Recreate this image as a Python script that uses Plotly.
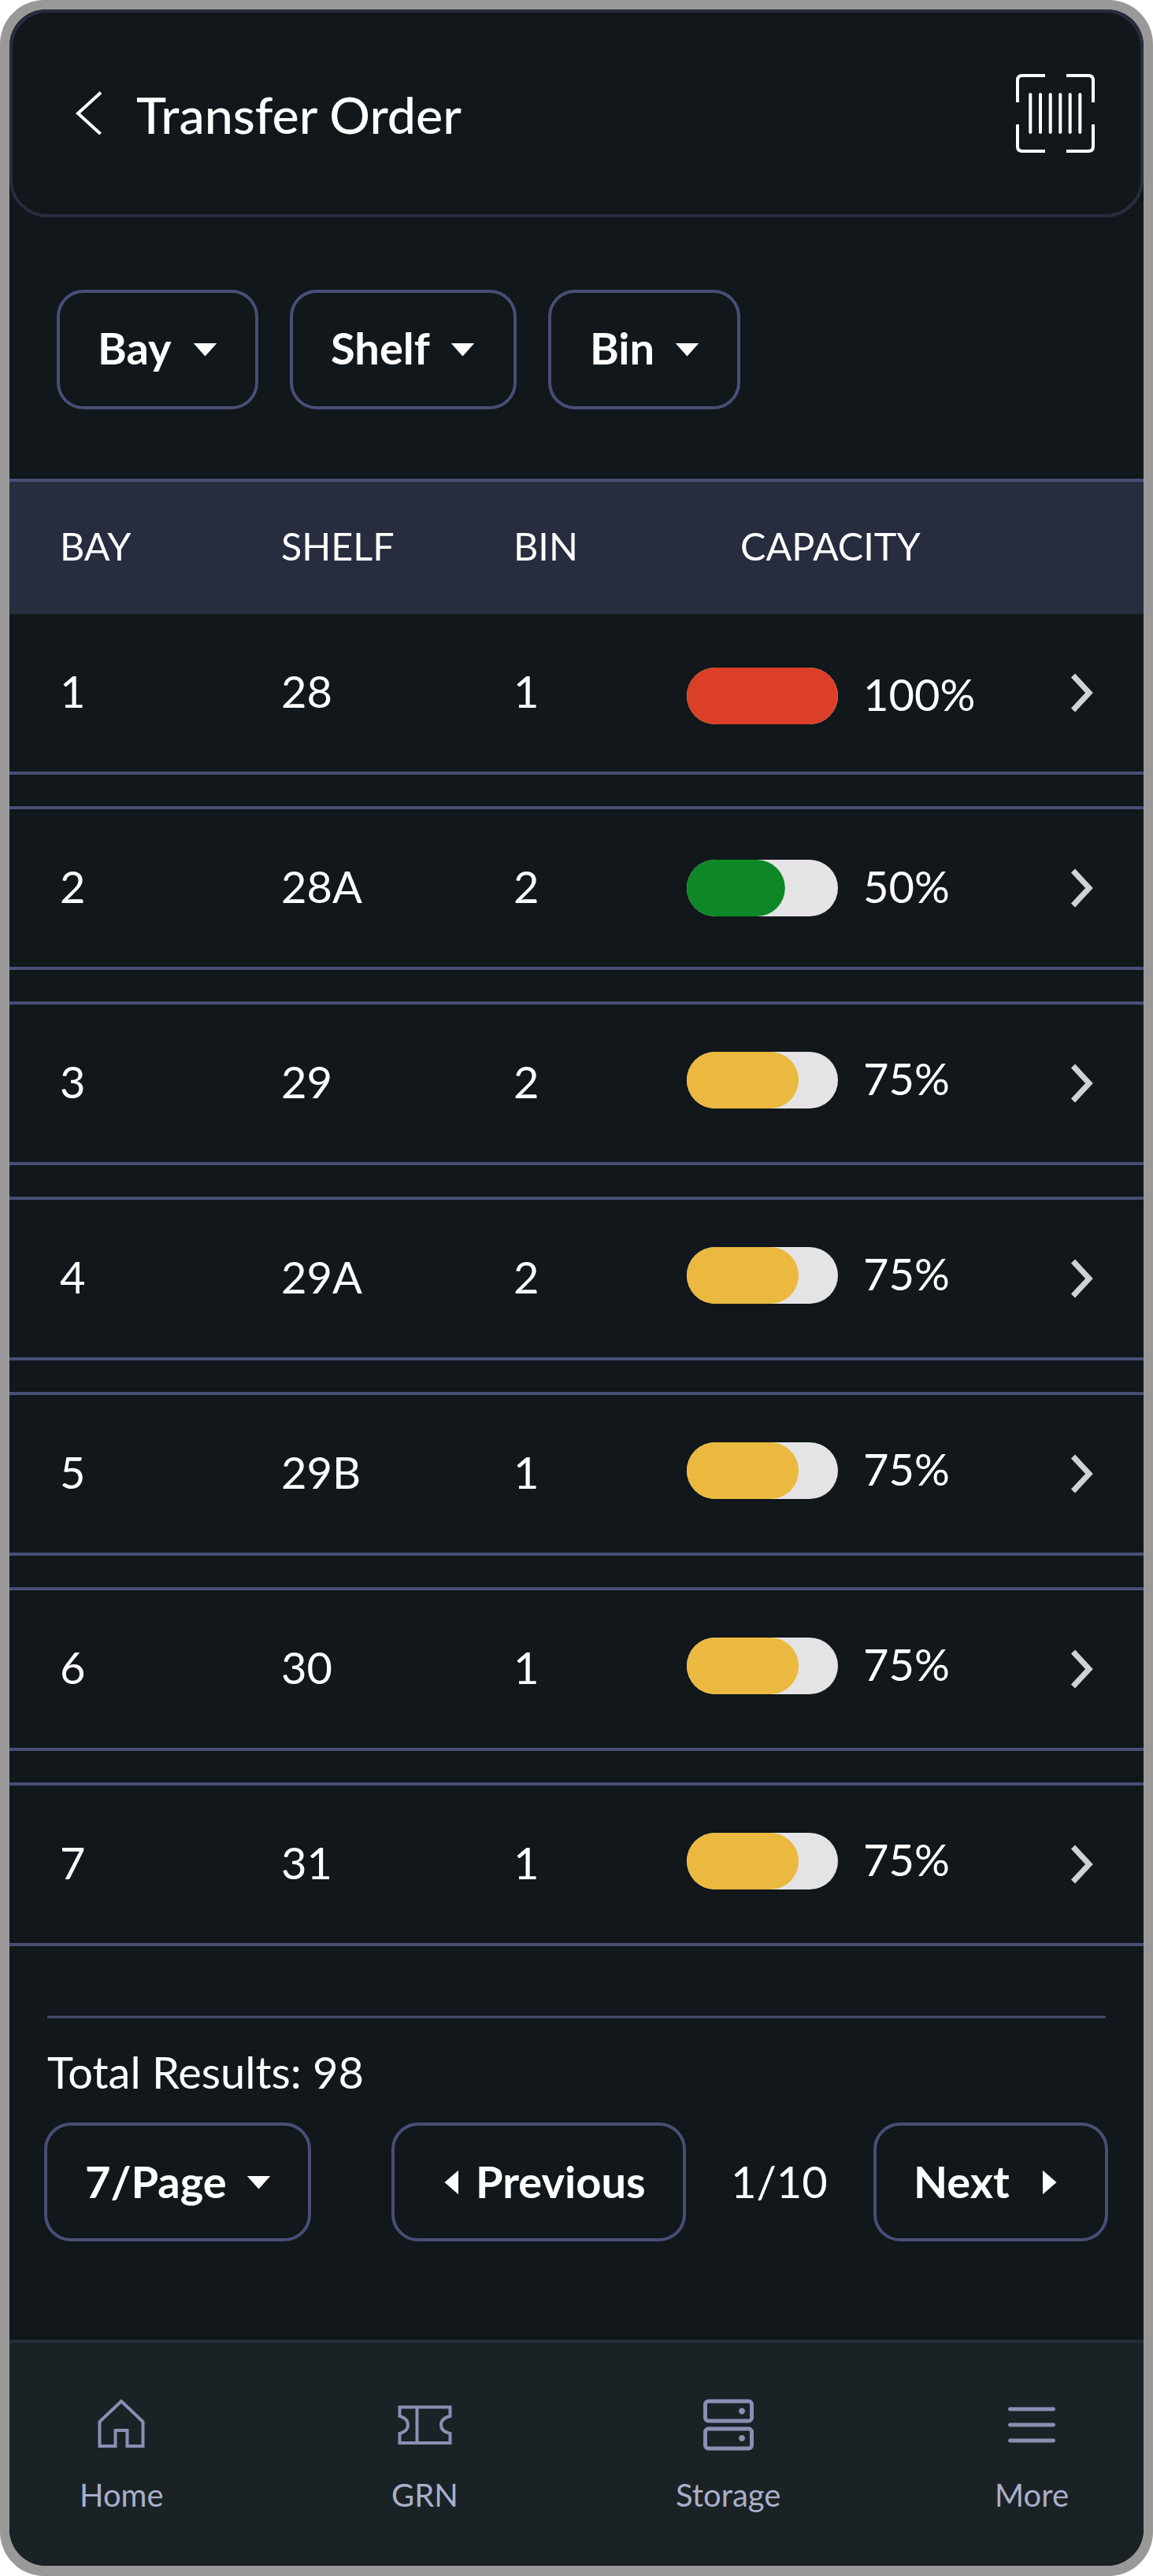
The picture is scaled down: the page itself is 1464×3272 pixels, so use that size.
import plotly.graph_objects as go

# table data
bays = ["1", "2", "3", "4", "5", "6", "7"]
shelves = ["28", "28A", "29", "29A", "29B", "30", "31"]
bins = ["1", "2", "2", "2", "1", "1", "1"]
capacity_labels = ["100%", "50%", "75%", "75%", "75%", "75%", "75%"]
# drawn fill of each pill, as share of the track
capacity_fill = [100, 65, 74, 74, 74, 74, 74]
capacity_colors = ["#db3f27", "#0e8726", "#ebb93f", "#ebb93f", "#ebb93f", "#ebb93f", "#ebb93f"]
track_full = [100, 100, 100, 100, 100, 100, 100]

headers = ["BAY", "SHELF", "BIN", "CAPACITY"]
filters = ["Bay", "Shelf", "Bin"]
nav_labels = ["Home", "GRN", "Storage", "More"]

# layout, in page pixels
W, H = 1464, 3272
text_rows = [880, 1128, 1376, 1624, 1872, 2120, 2368]
pill_rows = [884, 1128, 1372, 1620, 1868, 2116, 2364]
row_lines = [982, 1026, 1230, 1274, 1478, 1522, 1726, 1770, 1974, 2018, 2222, 2266, 2470]

BG = "#11171a"
NAV_BG = "#1a2226"
BORDER = "#484e76"
BAND = "#282c3f"
WHITE = "#ffffff"
NAV_ICON = "#8a8fb3"
NAV_TEXT = "#a9afc9"
FONT = "Lato"

shapes = []
annotations = []


def rrect_path(x0, y0, x1, y1, r):
    k = r * 0.45
    return (
        f"M{x0 + r},{y0} H{x1 - r} C{x1 - k},{y0} {x1},{y0 + k} {x1},{y0 + r} "
        f"V{y1 - r} C{x1},{y1 - k} {x1 - k},{y1} {x1 - r},{y1} "
        f"H{x0 + r} C{x0 + k},{y1} {x0},{y1 - k} {x0},{y1 - r} "
        f"V{y0 + r} C{x0},{y0 + k} {x0 + k},{y0} {x0 + r},{y0} Z"
    )


def add_rrect(x0, y0, x1, y1, r, fill=None, line=None, width=4):
    shapes.append(dict(
        type="path", path=rrect_path(x0, y0, x1, y1, r), layer="below",
        fillcolor=fill if fill else "rgba(0,0,0,0)",
        line=dict(color=line if line else "rgba(0,0,0,0)", width=width if line else 0),
    ))


def add_path(path, color, width=4, fill=None):
    shapes.append(dict(
        type="path", path=path, layer="below",
        fillcolor=fill if fill else "rgba(0,0,0,0)",
        line=dict(color=color, width=width),
    ))


def add_line(x0, x1, y, color, width=4):
    shapes.append(dict(type="line", x0=x0, x1=x1, y0=y, y1=y, layer="below",
                       line=dict(color=color, width=width)))


def add_text(x, y, text, size, color=WHITE, weight=400, anchor="left"):
    # small nudge: annotation boxes sit a little right and low of the glyphs
    if anchor == "left":
        x -= 3
    annotations.append(dict(
        x=x, y=y - size * 0.04, xref="x", yref="y", text=text, showarrow=False,
        xanchor=anchor, yanchor="middle", borderpad=0,
        font=dict(family=FONT, size=size, color=color, weight=weight),
    ))


def add_tri(points, color=WHITE):
    p = " L".join(f"{a},{b}" for a, b in points)
    add_path(f"M{p} Z", color, width=2, fill=color)


# frame and panels
add_rrect(0, 0, W, H, 56, fill="#999999")
add_rrect(12, 12, W - 12, H - 13, 46, fill=BG)
add_rrect(14, 14, W - 14, 274, 46, line=BAND, width=4)

# nav bar background, square on top and rounded below
shapes.append(dict(
    type="path", layer="below", fillcolor=NAV_BG, line=dict(width=0),
    path=f"M12,2974 H{W - 12} V{H - 59} C{W - 12},{H - 34} {W - 33},{H - 13} {W - 58},{H - 13} "
         f"H58 C33,{H - 13} 12,{H - 34} 12,{H - 59} Z",
))
add_line(12, W - 12, 2974, BAND, 4)

# top bar
add_path("M128,117.5 L99,144 L127.5,170", WHITE, 4)
add_text(175, 148, "Transfer Order", 64.5, weight=500)
add_path("M1292,130 V102 Q1292,96 1298,96 H1327", WHITE, 4)
add_path("M1354,96 H1382 Q1388,96 1388,102 V130", WHITE, 4)
add_path("M1292,158 V186 Q1292,192 1298,192 H1327", WHITE, 4)
add_path("M1354,192 H1382 Q1388,192 1388,186 V158", WHITE, 4)
for bx in [1308.3, 1321, 1333.7, 1346.3, 1358.7, 1371.3]:
    add_rrect(bx - 2, 118, bx + 2, 170, 2, fill=WHITE)

# filter buttons
filter_boxes = [(74, 326), (370, 654), (698, 938)]
filter_text_x = [126, 422, 750.5]
filter_tri_x = [247, 574, 859]
for name, box, tx, tri in zip(filters, filter_boxes, filter_text_x, filter_tri_x):
    add_rrect(box[0], 370, box[1], 518, 32, line=BORDER, width=4)
    add_text(tx, 444, name, 56, weight=700)
    add_tri([(tri + 1, 437), (tri + 26, 437), (tri + 13.5, 451)])

# table header
shapes.append(dict(type="rect", x0=12, x1=W - 12, y0=610, y1=780, layer="below",
                   fillcolor=BAND, line=dict(width=0)))
add_line(12, W - 12, 610, BORDER, 4)
for name, hx in zip(headers, [78, 358.5, 654, 942]):
    add_text(hx, 695, name, 48.5)

# table rows
for y in row_lines:
    add_line(12, W - 12, y, BORDER, 4)
for i in range(len(bays)):
    add_text(78, text_rows[i], bays[i], 56)
    add_text(359, text_rows[i], shelves[i], 56)
    add_text(654, text_rows[i], bins[i], 56)
    add_text(1098, pill_rows[i], capacity_labels[i], 56)
    cy = text_rows[i]
    add_path(f"M1362.5,{cy - 22} L1383,{cy} L1362.5,{cy + 22}", "#d0d1d4", 7)

# footer
add_line(60, 1404, 2562, BORDER, 3)
add_text(62, 2634, "Total Results: 98", 56)
add_rrect(58, 2698, 393, 2845, 32, line=BORDER, width=4)
add_rrect(499, 2698, 869, 2845, 32, line=BORDER, width=4)
add_rrect(1111, 2698, 1405, 2845, 32, line=BORDER, width=4)
add_text(110, 2773, "7/Page", 56, weight=700)
add_tri([(316, 2765), (341, 2765), (328.5, 2779)])
add_tri([(581, 2759), (581, 2785), (566, 2772)])
add_text(606, 2773, "Previous", 56, weight=700)
add_text(930, 2773, "1/10", 56)
add_text(1162, 2773, "Next", 56, weight=700)
add_tri([(1325, 2759), (1325, 2785), (1340, 2772)])

# nav icons
add_path("M146.5,3107 H126.5 V3076 L154,3050 L181.5,3076 V3107 H161.5 V3087 H146.5 Z", NAV_ICON, 4)
add_path(
    "M507.5,3057.5 H571.5 V3069 C563,3071 560,3075 560,3080 C560,3085 563,3089 571.5,3091 "
    "V3103 H507.5 V3091 C515,3089 518,3085 518,3080 C518,3075 515,3071 507.5,3069 Z",
    NAV_ICON, 4,
)
add_path("M529.5,3057.5 V3103", NAV_ICON, 4)
add_rrect(895.5, 3050, 954.5, 3075, 4, line=NAV_ICON, width=5)
add_rrect(895.5, 3085, 954.5, 3110, 4, line=NAV_ICON, width=5)
add_rrect(938, 3058.5, 946, 3066.5, 4, fill=NAV_ICON)
add_rrect(938, 3093, 946, 3101, 4, fill=NAV_ICON)
for my in [3060, 3080, 3100]:
    add_rrect(1280, my - 2.5, 1340, my + 2.5, 2.5, fill=NAV_ICON)
for name, nx in zip(nav_labels, [154, 539, 924.5, 1310]):
    add_text(nx, 3171, name, 40, color=NAV_TEXT, anchor="center")

fig = go.Figure()

# capacity pills; an explicit base makes plotly round both ends of the bar
fig.add_trace(go.Bar(
    x=track_full, y=pill_rows, base=0, orientation="h", width=72, xaxis="x2", yaxis="y",
    marker=dict(color="#e4e4e6", cornerradius=36, line=dict(width=0)),
    showlegend=False, hoverinfo="skip",
))
fig.add_trace(go.Bar(
    x=capacity_fill, y=pill_rows, base=0, orientation="h", width=72, xaxis="x2", yaxis="y",
    marker=dict(color=capacity_colors, cornerradius=36, line=dict(width=0)),
    showlegend=False, hoverinfo="skip",
))

fig.update_layout(
    width=W, height=H,
    margin=dict(l=0, r=0, t=0, b=0),
    paper_bgcolor=WHITE, plot_bgcolor="rgba(0,0,0,0)",
    barmode="overlay",
    shapes=shapes, annotations=annotations,
    xaxis=dict(range=[0, W], visible=False, fixedrange=True, domain=[0, 1]),
    xaxis2=dict(range=[0, 100], visible=False, fixedrange=True, anchor="y",
                domain=[872 / W, 1064 / W]),
    yaxis=dict(range=[H, 0], visible=False, fixedrange=True, domain=[0, 1]),
)

fig.write_html("out.html", config=dict(displayModeBar=False),
               post_script="document.body.style.margin='0';")
